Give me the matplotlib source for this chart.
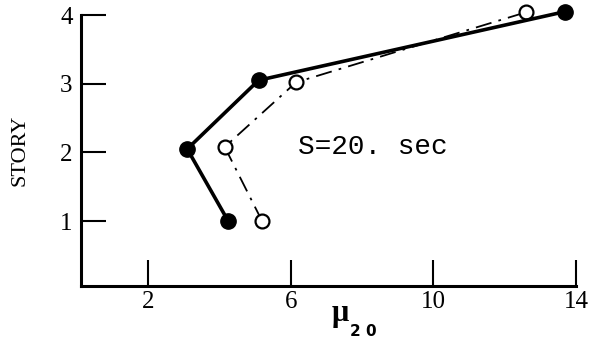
import matplotlib
matplotlib.use("Agg")
import matplotlib.pyplot as plt

# Data
story_filled = [1.0, 2.05, 3.05, 4.05]
mu_filled = [4.25, 3.1, 5.1, 13.7]
story_open = [1.0, 2.08, 3.02, 4.04]
mu_open = [5.2, 4.15, 6.15, 12.6]
x_ticks = [2, 6, 10, 14]
y_ticks = [1, 2, 3, 4]
annotation = "S=20. sec"

fig = plt.figure(figsize=(5.91, 3.41), dpi=100)
ax = fig.add_axes([0.137, 0.160, 0.9746 - 0.137, 0.956 - 0.160])

ax.plot(mu_open, story_open, color="black", lw=1.3, ls=(0, (9, 4, 1.5, 4)),
        marker="o", ms=10, mfc="white", mec="black", mew=1.6, zorder=3,
        clip_on=False)
ax.plot(mu_filled, story_filled, color="black", lw=2.6, ls="-",
        marker="o", ms=11, mfc="black", mec="black", zorder=4,
        clip_on=False)

ax.set_xlim(0.12, 14)
ax.set_ylim(0.05, 4)
for s in ["top", "right"]:
    ax.spines[s].set_visible(False)
for s in ["left", "bottom"]:
    ax.spines[s].set_linewidth(2.2)

ax.set_xticks(x_ticks)
ax.set_yticks(y_ticks)
ax.tick_params(axis="x", direction="in", length=19, width=1.5, pad=3,
               labelsize=18)
ax.tick_params(axis="y", direction="in", length=18, width=1.5, pad=6,
               labelsize=18)
for lab in ax.get_xticklabels() + ax.get_yticklabels():
    lab.set_family("Liberation Serif")

ax.set_ylabel("STORY", family="Liberation Serif", fontsize=16, labelpad=22)

# x-axis label: mu with bold subscript "2 0"
fig.text(340 / 591, 1 - 313 / 341, "\u03bc", family="Liberation Serif",
         fontweight="bold", fontsize=22, ha="center", va="center")
fig.text(363 / 591, 1 - 331 / 341, "2 0", family="DejaVu Sans",
         fontweight="bold", fontsize=11, ha="center", va="center")

ax.text(6.2, 2.08, annotation, family="Liberation Mono", fontsize=20,
        ha="left", va="center")

fig.savefig("out.png", dpi=100)
